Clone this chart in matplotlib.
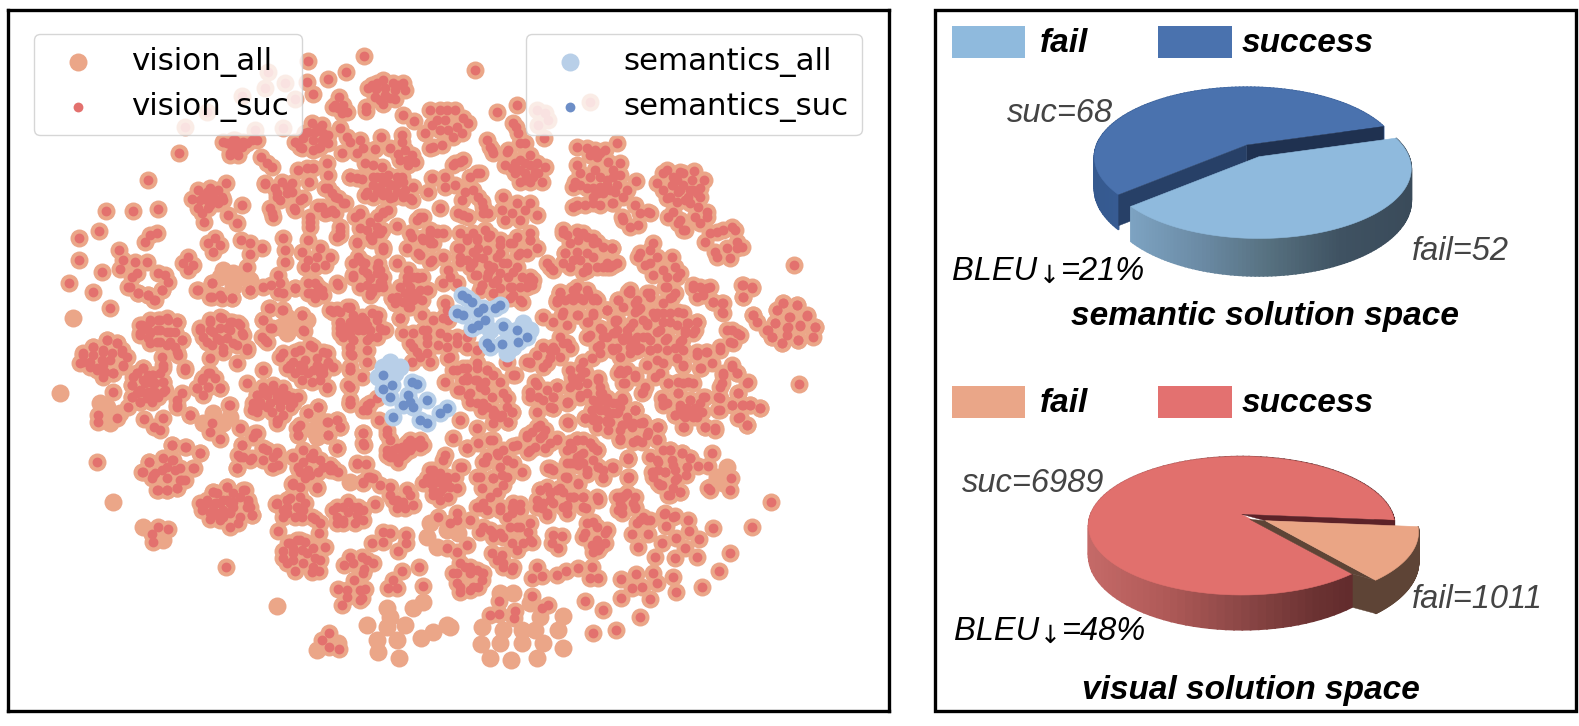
import numpy as np
from matplotlib import pyplot as plt
from matplotlib.patches import Polygon, Rectangle
from matplotlib.colors import to_rgb

# points, in picture pixels
vision_suc = [
(308,61),(364,56),(346,72),(328,79),(307,82),(313,94),(268,72),(285,83),(265,88),(295,99),(242,96),(207,112),(185,127),(255,130),(283,128),
(179,153),(148,180),(106,211),(133,211),(158,209),(99,231),(79,238),(79,260),(69,283),(93,292),(110,308),(102,272),
(377,83),(383,80),(393,83),(403,83),(368,88),(376,89),(385,88),(395,90),(405,90),(375,97),(385,95),(395,99),(383,104),
(339,97),(335,105),(343,105),(338,108),(347,112),(366,107),(366,111),(403,115),(414,121),
(430,110),(440,110),(447,110),(437,120),(445,120),(432,125),(440,130),(448,130),(425,133),(433,147),(442,145),(430,148),
(455,110),(463,118),(468,123),(457,127),(462,133),(453,137),
(227,143),(233,140),(240,143),(247,143),(232,148),(238,148),(230,155),(257,140),(261,157),(267,163),(272,167),
(312,123),(322,125),(308,132),(315,132),(323,133),(303,138),(313,140),(322,140),(328,143),(295,142),(302,148),(313,150),(318,148),
(340,128),(347,137),(350,142),(360,140),(342,153),(357,153),(363,148),(375,149),(381,137),(390,148),(402,135),(402,142),
(398,154),(405,150),(412,155),(400,160),(407,160),(415,162),(408,165),(365,163),(373,165),(382,167),
(327,163),(328,175),(298,170),(307,168),(313,168),(265,184),(282,182),(292,183),(275,188),(287,193),(277,197),
(309,182),(303,198),(294,208),(272,213),(328,188),(335,197),(343,203),(322,207),(328,212),(335,213),(310,222),(340,231),
(350,177),(362,179),(377,177),(388,175),(397,177),(373,185),(383,182),(392,185),(403,182),(377,192),(387,192),(397,192),(365,195),(390,198),(410,198),
(432,178),(445,177),(428,192),(445,187),(440,208),(360,214),(383,212),
(370,222),(360,228),(377,227),(370,237),(380,233),(357,242),(383,248),(397,226),
(420,217),(430,230),(412,237),(423,240),(433,243),(407,248),(420,255),(432,260),(443,233),
(198,190),(210,188),(218,190),(226,183),(192,199),(203,197),(213,197),(222,197),(198,208),(210,205),(218,203),(242,205),
(228,215),(237,223),(204,222),(157,233),(150,235),(145,242),(215,238),(208,243),(220,245),(213,252),
(241,240),(250,243),(262,248),(250,254),(247,267),(283,238),(285,250),(285,262),
(308,240),(302,252),(320,248),(330,257),(308,260),(317,257),(325,265),(305,267),(315,267),
(188,257),(183,263),(193,265),(188,270),
(119,250),(123,260),(120,269),(135,262),(147,262),(137,273),(132,277),(128,287),(138,293),(148,295),(154,300),(158,273),(165,275),(168,282),(162,290),
(212,283),(198,290),(250,290),(210,297),(220,295),(232,298),
(278,275),(280,283),(271,285),(283,293),(295,288),(308,283),(315,283),(308,293),(315,293),(322,290),(315,298),(338,285),
(353,277),(363,270),(377,267),(370,278),(380,282),(360,287),(373,288),(383,287),(370,295),
(407,277),(417,277),(400,287),(410,287),(420,290),(392,298),(403,302),(413,300),(400,318),(422,315),(445,303),
(269,308),(283,310),(302,315),(263,320),(272,328),(304,331),(265,340),
(333,311),(350,308),(340,322),(353,320),(365,320),(343,333),(358,330),(370,330),(350,347),(380,328),(372,313),
(142,325),(150,322),(158,320),(168,320),(177,322),(140,335),(150,333),(160,330),(170,332),(150,343),(160,342),(170,342),(182,340),(177,352),
(210,322),(222,318),(232,322),(240,325),(200,330),(213,332),(227,328),(243,335),(207,342),(220,340),(233,343),(247,348),(223,352),
(107,340),(93,347),(117,343),(83,355),(103,350),(122,353),
(83,362),(97,370),(113,373),(103,365),(123,366),
(143,368),(137,373),(153,375),(132,385),(145,383),(155,383),(163,382),(132,397),(142,392),(152,392),(163,392),(140,402),(152,400),
(113,392),(128,407),(163,365),(185,370),(203,378),(210,373),(220,388),(197,388),(208,387),(182,393),(177,405),
(98,415),(98,422),(117,418),(144,419),(163,418),(154,427),(160,430),(190,415),
(212,423),(210,432),(220,439),(240,428),(229,405),(247,383),(263,370),
(263,388),(273,385),(283,388),(257,395),(267,395),(277,393),(287,395),(260,405),(270,403),(280,403),(290,402),(253,410),(277,420),(298,397),
(290,365),(303,367),(317,365),(328,363),(295,373),(308,373),(320,373),(312,382),(327,388),(350,370),(348,385),(350,404),(367,405),(367,410),
(318,407),(308,413),(300,425),(298,435),(328,422),(337,420),(340,427),(328,435),(337,448),(363,433),(364,445),(379,420),(387,434),
(387,450),(397,448),(407,443),(417,442),(393,457),(403,455),(398,462),(423,445),(445,455),
(172,445),(186,447),(200,453),(194,468),
(149,462),(163,458),(173,460),(142,472),(155,473),(167,467),(180,468),(152,478),(182,480),(157,490),(167,490),(177,488),(97,462),
(257,433),(242,445),(238,455),(263,448),(252,458),(277,452),(237,468),(273,467),
(303,462),(313,458),(320,460),(298,468),(308,470),(318,472),(305,478),(330,465),(338,472),(292,484),(317,488),
(357,464),(366,464),(368,477),(363,482),(373,478),
(430,470),(440,473),(427,478),(437,482),(447,480),(433,490),(443,488),(448,497),
(390,487),(407,490),(397,500),(405,508),(413,505),(397,508),
(213,492),(227,487),(245,490),(207,503),(217,503),(227,500),(248,500),(202,510),(213,510),(223,510),(233,507),(210,519),(223,517),(238,523),(252,515),(230,527),
(290,498),(276,504),(287,507),(305,503),(283,517),(295,517),(315,519),(278,531),(302,517),
(337,507),(348,502),(358,507),(337,517),(357,515),(343,523),(355,523),(348,512),(375,504),
(158,527),(152,534),(168,529),(153,542),
(288,543),(297,540),(305,542),(283,551),(293,548),(302,550),(313,548),(283,558),(293,560),(303,563),(315,558),(325,547),(295,571),(312,572),(319,571),(319,533),
(383,532),(390,533),(383,542),(372,543),(406,535),(406,543),(398,551),(438,517),(447,548),
(344,565),(362,557),(373,563),(364,569),(354,580),(338,589),(365,589),(362,598),(342,605),
(402,571),(393,580),(388,588),(397,588),(419,567),(423,586),(226,567),
(329,633),(322,640),(329,647),(339,649),
(475,70),(517,105),(497,112),(516,127),(520,143),(507,152),(490,147),(493,153),(544,138),(537,110),(548,120),(538,125),(545,113),(590,102),
(530,155),(515,163),(525,163),(537,163),(505,165),(515,173),(525,173),(535,172),(545,167),(520,182),(530,182),(542,182),
(460,162),(477,173),(453,165),(455,185),(473,190),(462,200),(463,215),(482,202),(483,213),
(503,197),(517,203),(530,203),(502,210),(512,213),(525,210),(505,220),(520,220),(537,215),
(587,148),(595,150),(605,150),(617,143),(577,165),(595,170),(608,162),(620,163),(620,175),(575,182),(587,188),(598,193),(607,185),(615,192),(627,190),(636,181),(573,207),(585,205),(600,205),(612,203),
(635,205),(648,212),(623,220),(638,225),
(667,170),(680,172),(694,171),(657,183),(672,185),(692,180),(704,180),(678,192),(690,190),(700,188),(667,198),(677,202),(685,200),
(673,212),(698,207),(707,212),(678,223),(700,223),(685,230),
(717,232),(732,227),(705,242),(737,242),(742,247),(727,248),(715,252),(730,258),(794,265),
(567,235),(577,232),(587,237),(597,242),(565,253),(577,252),(593,257),(612,248),(550,267),(570,267),(583,272),(610,267),(607,263),
(650,250),(638,257),(657,257),(645,265),(672,257),(653,275),(675,267),(677,277),(743,285),(752,288),(743,297),
(783,303),(797,305),(777,310),(789,317),(807,316),(775,323),(800,326),(815,327),(767,330),(787,328),(772,337),(782,343),(798,340),(753,315),
(467,240),(477,238),(488,237),(460,248),(478,248),(500,245),(513,243),(530,240),(537,248),(483,258),(497,257),(518,255),(467,260),(475,275),(490,270),(517,267),(508,277),(482,285),(500,288),(510,287),(528,282),(532,285),(522,302),(510,298),
(560,292),(577,287),(588,295),(557,302),(573,300),(597,300),(562,315),(578,315),(593,315),(567,325),(588,322),
(630,290),(650,293),(618,300),(635,303),(638,310),(607,310),(615,322),(633,323),(647,323),(600,328),(613,333),(627,330),(590,335),(607,337),(623,340),(637,337),(650,340),(630,347),(667,338),(680,342),
(657,313),(670,313),(683,313),(663,322),(677,325),(687,323),(697,322),(685,333),(695,330),
(667,287),(672,297),(693,285),(700,287),(707,288),(697,297),(713,302),(723,303),(723,313),
(727,330),(737,333),(733,343),(720,350),(707,352),(697,352),
(467,337),(457,343),(477,350),(550,350),(563,343),(597,347),(613,350),(630,353),(650,350),(667,350),
(457,370),(467,368),(477,368),(487,370),(463,380),(475,380),(485,390),(500,382),(515,375),(470,402),(482,410),(492,397),(507,398),(493,415),(512,412),(508,422),(502,415),
(460,420),(477,428),(453,438),
(535,382),(530,392),(538,397),(557,387),(567,402),(553,408),(580,395),(573,380),(578,385),(543,367),(530,363),(547,363),(570,370),(598,378),(602,393),
(600,400),(613,403),(592,410),(605,410),(617,413),(598,420),(610,422),(622,425),(585,418),(622,400),(635,410),
(568,422),(632,427),(643,422),(648,432),(637,440),(620,439),(657,439),(658,427),(642,442),
(623,373),(625,383),(643,392),(655,377),(668,383),(683,383),(693,383),(647,365),(663,363),(683,365),(700,368),
(732,367),(723,373),(722,383),(737,373),(747,383),(738,393),
(678,393),(663,403),(690,400),(680,408),(690,410),(700,403),(705,397),(675,415),(685,417),(697,417),(720,398),(683,427),(705,427),(715,430),(718,410),(732,405),(667,403),
(742,405),(750,405),(760,408),(738,418),(747,425),(799,384),
(540,425),(532,432),(527,435),(540,438),(557,439),(535,447),(528,452),(545,448),
(577,440),(590,443),(572,448),(583,453),(597,450),(567,463),(578,465),(593,447),(548,468),(567,477),(587,474),(578,484),
(598,467),(603,477),(613,467),(628,459),(629,477),
(670,450),(682,453),(690,458),(658,462),(673,465),(687,467),(652,472),(665,472),(677,478),(686,475),(660,485),(670,495),(680,492),(698,466),(708,466),
(712,453),(731,478),(708,488),(730,490),(771,502),(752,527),(713,528),(730,553),(719,571),(702,587),
(467,448),(478,443),(493,440),(513,446),(487,457),(498,455),(507,460),(483,462),(500,467),(513,463),(522,472),(460,467),(455,477),
(477,477),(493,478),(502,475),(482,488),(503,485),(497,492),(490,497),(457,488),(480,507),(500,510),(512,507),(520,504),(512,513),
(540,490),(550,492),(560,488),(537,500),(550,500),(542,508),(547,515),(567,505),(567,513),(574,497),(583,497),(598,500),(586,508),
(617,497),(625,495),(635,497),(622,507),(635,508),(622,513),(640,520),(647,520),
(593,522),(585,533),(605,533),(597,540),(592,545),(605,543),(598,550),(632,534),(648,534),(638,547),
(664,514),(675,516),(688,520),(666,526),(689,531),(676,538),(699,539),(662,543),(685,548),(655,557),(675,558),(697,557),
(457,520),(450,523),(467,545),(457,552),
(480,532),(492,532),(500,533),(510,527),(520,527),(528,532),(532,542),(523,543),(512,543),(517,550),
(553,535),(562,536),(552,543),(558,548),(492,553),(502,555),(503,567),(512,570),
(465,567),(477,570),(457,573),(482,580),(457,583),(470,590),(478,587),(460,592),
(537,567),(532,578),(542,576),(557,575),(566,571),(578,568),(592,567),(590,578),(598,578),
(585,601),(603,610),(593,633),(616,630),(640,617),
(621,579),(636,574),(653,573),(673,577),(632,588),(642,587),(657,583),(621,598),(650,599),(676,592),
(499,601),(532,596),(490,615),(499,614),(515,611),(514,618),(542,608),(548,605),
]
# second pass over the dense middle of the cloud
vision_suc_dense = [
(467,238),(477,240),(490,235),(510,243),(520,253),(530,240),(458,248),(473,252),(487,250),(500,253),(460,262),(473,263),(488,265),(503,263),(513,272),(477,275),(488,273),(500,273),(482,285),(493,283),(512,287),(527,287),(533,280),(520,300),(450,277),(457,283),
(563,233),(578,240),(593,238),(612,248),(565,253),(573,260),(587,253),(547,263),(553,270),(587,270),(607,267),(613,265),
(337,237),(357,243),(372,237),(383,247),(422,238),(430,240),(418,253),(430,262),(360,260),(367,273),(380,270),(353,275),(372,292),(382,283),(337,283),(397,263),(407,282),(418,278),(428,290),(392,298),(410,298),(418,298),(400,318),(410,307),
(337,310),(350,307),(343,327),(358,320),(367,325),(350,335),(363,330),(370,337),(382,330),(340,333),(378,315),
(352,355),(367,362),(350,367),(362,377),(350,387),(350,403),(368,405),(363,433),(363,443),
(410,343),(417,352),(427,337),(420,357),(430,362),(438,345),(412,362),(427,353),(448,358),(427,330),(443,318),(450,357),
(453,370),(463,368),(477,363),(487,370),(467,380),(477,380),(485,382),(458,390),(468,395),(445,382),(477,403),(487,407),(495,413),(512,412),(493,423),(508,422),(513,375),(507,362),(530,362),
(457,337),(467,347),(447,337),
(543,317),(553,322),(560,337),(543,347),(553,347),(537,355),(550,358),(567,343),(527,362),
(560,293),(573,290),(587,290),(557,302),(570,298),(583,300),(595,298),(563,312),(577,315),(593,313),(607,310),(615,320),
(630,293),(623,307),(637,307),(650,297),(663,303),(617,330),(630,327),(643,320),(655,317),(587,337),(603,337),(617,348),(630,340),(643,337),(660,330),(600,353),(620,357),(637,350),(650,350),(620,370),(635,375),(657,360),(660,373),
(537,385),(547,390),(530,397),(543,400),(553,397),(567,403),(537,412),(550,407),(580,377),(570,387),(587,383),(587,393),(600,387),
(593,400),(607,398),(600,410),(613,413),(593,420),(607,422),(620,407),(627,423),(640,423),(567,422),(620,440),(637,440),(657,427),
(467,448),(490,440),(497,453),(485,462),(503,450),(507,460),(517,445),(527,437),(537,427),(543,435),(530,450),(550,443),(480,477),(493,478),(507,477),(462,467),(433,470),(447,477),(443,460),(583,440),(570,443),(593,447),(577,457),(593,460),(587,470),(567,478),(553,470),(573,463),
(613,468),(628,458),(628,478),(603,470),(650,457),(663,450),(658,470),(653,477),
(393,450),(402,447),(410,440),(387,455),(397,458),(405,453),(357,463),(370,477),(363,483),(380,485),
(140,325),(150,320),(160,320),(167,318),(177,322),(140,333),(148,330),(157,330),(167,332),(175,332),(148,338),(157,342),(167,345),(182,340),(175,347),
(162,357),(178,355),(163,368),(185,368),
(210,320),(220,317),(230,322),(238,323),(200,328),(210,330),(220,328),(230,330),(242,333),(203,337),(217,338),(227,338),(212,345),(223,348),(237,345),(247,350),(210,358),(237,363),
(93,347),(107,340),(117,343),(83,353),(93,355),(103,352),(112,353),(122,350),(90,362),(102,360),(110,360),(127,357),(97,368),(105,372),(113,373),(123,365),
(143,368),(137,373),(152,375),(132,385),(143,380),(152,383),(163,382),(140,390),(148,392),(165,390),(132,397),(140,402),(155,392),(152,402),
(263,387),(273,387),(280,392),(257,395),(267,395),(277,397),(287,397),(260,402),(270,403),(280,407),(290,407),(272,412),(252,410),(257,412),(278,420),
(295,352),(310,345),(323,352),(280,357),(293,362),(305,360),(317,358),(328,362),(287,368),(300,370),(313,370),(323,373),(302,380),(327,387),
(282,310),(270,308),(302,315),(303,330),(263,320),(270,328),(267,342),(262,337),
(298,435),(308,413),(318,407),(327,422),(337,420),(340,427),(328,435),(337,448),(297,428),
(208,373),(202,380),(215,378),(197,388),(208,387),(220,388),(203,395),(177,400),(177,407),(190,415),(230,405),
(255,433),(242,445),(240,457),(250,460),(263,448),(277,453),(272,467),(237,468),(278,465),
(172,445),(185,447),(200,453),(193,468),
(172,460),(162,470),(149,462),(143,472),(153,475),(167,478),(180,480),(177,488),(158,490),(167,490),(185,480),(175,470),
(213,492),(227,487),(243,490),(203,507),(215,503),(223,500),(233,502),(248,502),(210,513),(220,513),(230,513),(252,515),
(293,457),(303,450),(313,453),(323,467),(333,470),(300,472),(310,475),(317,487),(293,483),
(277,503),(287,500),(300,497),(287,513),(300,510),
(330,310),(350,308),(340,323),(350,322),(357,323),(343,337),(353,340),(352,355),(350,370),(350,387),(350,403),
(263,287),(278,292),(295,288),(310,293),(318,287),(323,295),
(130,287),(138,293),(148,295),(155,300),(162,290),(197,290),(212,297),(222,298),(232,298),(250,290),(212,283),
(560,293),(575,292),(588,293),(557,300),(565,300),(580,298),(593,300),
(628,292),(637,300),(647,293),(618,300),(640,308),(635,312),
(665,287),(675,293),(670,298),(693,288),(703,290),(710,287),(703,295),(713,302),(722,303),(722,312),
(742,285),(752,287),(743,297),
(753,315),(757,322),(783,303),(797,305),(777,310),(807,315),(790,317),(775,323),(768,330),(788,327),(800,325),(815,327),(772,337),(787,335),(782,343),(798,340),(813,337),
(607,310),(617,320),(587,322),(602,330),(588,337),(600,345),(612,348),(615,333),(622,338),(627,335),(635,343),(640,348),(647,337),(657,332),(665,340),(657,348),
(653,313),(663,313),(678,312),(670,322),(688,323),(697,322),(685,330),(693,333),(647,325),
(682,340),(675,348),(683,350),(677,358),(683,366),(697,355),(706,352),(701,368),(712,363),(720,347),(732,330),(740,335),(730,342),
(732,365),(723,375),(737,373),(720,387),(748,382),(738,393),(718,397),(732,405),(743,405),(750,405),(760,408),(740,417),(747,425),(720,410),
(690,400),(680,405),(687,408),(695,408),(675,415),(683,415),(693,417),(702,412),(703,397),(684,427),(705,427),(715,428),(663,405),(662,398),
(678,382),(688,382),(668,383),(678,393),
(645,387),(642,393),(622,398),(635,410),(643,423),(633,423),(658,427),(647,435),(657,440),(620,438),(633,442),
(557,387),(553,397),(568,402),(580,397),(572,377),(573,383),(585,372),(598,380),(553,408),(550,357),(560,357),(570,348),(555,350),(583,362),(592,358),(580,368),
(600,393),(598,403),(608,412),(592,410),(618,412),(607,420),(585,418),(597,427),(608,430),(622,425),(623,400),(635,410),
(627,370),(635,377),(618,373),(623,383),(568,423),(557,440),(545,430),
(577,440),(590,443),(567,450),(580,455),(597,450),(570,463),(583,463),(550,468),
(565,477),(578,483),(587,473),(598,467),(612,467),(603,478),(628,458),(628,477),
(670,450),(682,453),(657,460),(672,460),(690,458),(665,472),(675,470),(653,472),(687,467),(658,483),(675,480),(662,485),(673,488),(668,495),(680,492),
(710,490),(547,487),(557,490),(573,497),(583,497),(598,498),(567,507),(583,507),(620,497),(627,493),(618,510),(635,507),(665,513),(673,517),
(382,177),(402,177),(380,187),(388,183),(398,183),(383,195),(393,197),(405,190),(230,143),(237,145),(242,147),(235,140),
(207,192),(213,192),(200,200),(207,200),(217,202),(223,200),(208,208),(202,213),
(597,157),(607,180),(600,187),(610,190),(613,177),(593,197),(673,185),(677,180),(680,190),(683,185),(688,197),(697,193),
(520,160),(512,168),(520,170),(530,165),(538,173),(525,180),(533,177),
(220,503),(230,503),(220,513),(230,512),(213,515),(433,473),(443,480),(430,483),(440,492),(392,452),(402,448),(412,447),(400,457),(482,573),(470,567),
]
# third pass, cluster edges
vision_suc_edges = [
(372,85),(398,85),(380,100),(390,98),(333,107),(342,113),(297,143),(305,133),(317,128),(328,135),(300,147),(320,147),
(223,142),(230,153),(243,142),(238,155),(252,140),(350,177),(357,178),(367,192),(373,197),(403,197),(412,200),(373,177),(413,187),
(325,188),(332,193),(338,198),(345,203),(318,207),(325,213),(332,210),(310,217),(310,227),(340,227),(340,235),(270,208),(273,217),(300,200),(295,210),
(265,183),(277,193),(287,187),(292,192),(280,200),(360,213),(355,217),(383,213),(388,210),(378,217),
(367,230),(377,233),(372,240),(382,230),(383,250),(358,257),(365,263),
(353,263),(362,262),(378,263),(377,273),(383,277),(367,285),(378,287),(370,293),
(408,270),(413,277),(422,277),(405,293),(413,293),(427,290),(397,297),(422,300),(408,307),(395,303),
(430,233),(437,233),(430,243),(417,220),(423,217),(410,233),(443,257),(448,270),(443,283),(447,310),(448,320),
(333,312),(340,312),(347,307),(353,315),(362,317),(340,328),(350,328),(363,325),(377,320),(385,330),(377,337),(353,340),(367,340),
(403,333),(413,333),(423,330),(433,320),(440,333),(427,343),(413,347),(447,347),
(283,353),(300,350),(313,347),(327,353),(350,353),(367,350),
(487,140),(492,150),(508,150),(513,123),(518,133),(525,143),(455,163),(463,160),(470,177),(480,173),
(465,192),(478,197),(483,207),(488,213),(458,213),(468,217),
(577,147),(590,155),(600,153),(580,173),(590,177),(600,177),(613,170),(573,187),(580,185),(593,188),(603,193),(617,185),(623,197),(613,203),(577,205),(593,203),
(622,217),(630,227),(640,213),(650,213),(663,173),(673,177),(683,173),(663,190),(670,197),(693,190),(700,197),(690,203),
(668,217),(680,220),(683,230),(695,217),(707,217),(710,233),(723,230),(735,230),(737,248),(717,257),
(563,230),(570,243),(583,233),(593,243),(603,247),(563,263),(580,260),(587,267),(603,267),(617,263),(597,267),
(640,253),(650,263),(663,270),(667,277),(680,273),(653,243),
(460,233),(473,233),(485,230),(500,240),(517,237),(530,233),(460,257),(477,257),(493,267),(507,263),(527,253),(470,267),(487,277),(497,280),(522,277),(530,277),(480,290),(493,293),(513,295),(520,287),
(470,520),(457,513),(483,527),(490,530),(517,527),(503,537),(493,537),(530,523),(530,540),(503,563),(513,567),(497,560),
(460,563),(470,573),(483,573),(453,573),(460,587),(473,587),
(483,503),(477,507),(487,510),(513,503),(520,510),(500,507),(507,517),
(540,490),(543,503),(550,493),(537,507),(553,503),(547,513),(563,507),
(587,523),(597,527),(607,530),(583,537),(600,547),(593,552),(620,503),(623,497),(633,503),(643,517),(637,523),(650,520),(597,497),(570,497),(563,492),
(500,417),(493,410),(483,403),(470,393),(460,390),(480,387),(503,393),(507,407),(467,377),(493,375),
(597,403),(607,403),(593,417),(617,403),(627,417),(620,430),
(90,367),(103,377),(80,363),(133,377),(148,375),(160,373),(137,393),(147,398),(158,397),
(263,393),(270,390),(277,400),(267,407),(283,400),(292,397),(253,403),
(303,370),(290,368),(300,365),(323,368),(333,367),(320,380),(253,407),(257,410),(283,415),(277,423),(293,403),
(253,437),(267,450),(243,457),(263,460),(273,457),
(298,467),(310,457),(323,467),(330,470),(333,468),(300,487),(293,485),
(333,510),(343,507),(343,520),(353,507),(363,510),(337,523),(363,520),
(287,500),(283,510),(303,510),(297,507),(312,517),(320,523),
(207,500),(200,503),(217,493),(233,493),(240,497),(247,507),(240,517),(220,520),(250,507),
(290,543),(300,540),(293,553),(307,553),(320,560),(313,567),(287,563),
(350,557),(367,560),(353,563),(363,573),(360,590),(347,590),(347,597),(360,600),
(430,477),(440,477),(423,483),(433,495),(450,487),(440,500),(393,500),(403,502),(390,495),(410,495),
(410,450),(420,447),(390,457),(420,440),(350,400),(370,403),(363,410),(377,398),(387,430),(390,440),
]
# seen in vision_all only, no red dot on top
vision_fail = [
(73,318),(233,273),(243,277),(220,277),(233,287),(250,280),(223,270),(287,317),(280,327),(293,327),(307,320),(287,333),
(60,393),(107,407),(100,403),(120,413),(110,423),(213,413),(203,423),(223,423),(213,430),(230,417),
(313,430),(320,420),(317,437),(113,502),(350,482),(143,527),(163,540),(430,523),(427,537),(437,547),(447,530),
(413,608),(423,602),(277,606),(317,650),(338,643),
(387,608),(367,625),(405,625),(377,640),(397,640),(387,627),(378,652),(399,658),(390,617),(421,638),(433,632),(447,625),
(458,533),(727,467),(717,477),(710,487),(723,483),
(513,593),(500,593),(530,603),(563,616),(558,630),(563,648),(537,658),(511,660),(490,658),(481,644),(482,627),(500,643),(522,643),(543,643),(503,630),(522,630),(535,630),(540,617),(450,627),
]
semantics_suc = [
(462,295),(467,298),(472,302),(457,313),(463,315),(478,312),(483,308),(495,308),(500,305),(472,328),(478,325),(485,320),(503,326),(517,330),(527,337),(518,342),(487,343),(490,347),(502,344),
(383,375),(392,385),(383,389),(390,397),(412,382),(417,384),(408,395),(410,402),(403,405),(413,407),(427,400),(393,417),(420,420),(427,423),(440,413),(447,408),
]
semantics_fail = [
(523,323),(530,330),(507,353),(520,340),(507,330),(490,330),(513,347),
(390,362),(383,367),(400,367),(378,377),(395,373),
]

# pie values
semantic_counts = [68, 52]
visual_counts = [6989, 1011]

VISION_ALL = '#eba688'
VISION_SUC = '#e3716e'
SEM_ALL = '#b8cfe8'
SEM_SUC = '#6d8ec7'
FONT = 'Liberation Sans'
W, H = 1579, 726


def project(theta, apex, rx, ry, k, drop=0.0):
    t = np.radians(theta)
    w = 1 + k * np.sin(t)
    return np.column_stack([apex[0] + rx * np.cos(t) / w, apex[1] - ry * np.sin(t) / w + drop / w])


def top_face(ax, t0, t1, apex, rx, ry, k, colour, z):
    arc = project(np.linspace(t0, t1, 120), apex, rx, ry, k)
    ax.add_patch(Polygon(np.vstack([[apex], arc]), closed=True, fc=colour, ec=colour, lw=0.4, zorder=z))


def side_wall(ax, t0, t1, apex, rx, ry, k, depth, stops, z):
    ts = np.linspace(t0, t1, 121)
    up = project(ts, apex, rx, ry, k)
    down = project(ts, apex, rx, ry, k, depth)
    left, right = up[:, 0].min(), up[:, 0].max()
    stops = np.array([to_rgb(c) for c in stops])
    pos = np.linspace(0, 1, len(stops))
    for i in range(len(ts) - 1):
        f = ((up[i, 0] + up[i + 1, 0]) / 2 - left) / (right - left)
        c = [np.interp(f, pos, stops[:, j]) for j in range(3)]
        ax.add_patch(Polygon([up[i], up[i + 1], down[i + 1], down[i]], closed=True, fc=c, ec=c, lw=1.2, zorder=z))


def flat(ax, pts, colour, z):
    ax.add_patch(Polygon(pts, closed=True, fc=colour, ec=colour, lw=0.3, zorder=z))


def semantic_pie(ax):
    total = sum(semantic_counts)
    start = 16.7
    mid = start + 360.0 * semantic_counts[0] / total
    end = start + 360.0
    suc_apex = (1246.7, 145.0)
    fail_apex = (1259.0, 156.7)
    rx, ry, k, d = 150, 67.7, 0.172, 31.0

    side_wall(ax, start, mid, suc_apex, rx, ry, k, d, ['#35598f', '#4068a2', '#3a5e96'], 3)
    top_face(ax, start, mid, suc_apex, rx, ry, k, '#4a72ae', 4)
    a = np.array(suc_apex)
    s = project(np.array([start]), suc_apex, rx, ry, k)[0]
    e = project(np.array([mid]), suc_apex, rx, ry, k)[0]
    flat(ax, [a, s, s + [0, d], a + [0, d]], '#1f3150', 5)
    flat(ax, [a, e, e + [0, d], a + [0, d]], '#274067', 5)

    side_wall(ax, mid, end, fail_apex, rx, ry, k, d,
              ['#7da3c2', '#6b8ba5', '#56707f', '#3f5262', '#3a4b5a'], 6)
    top_face(ax, mid, end, fail_apex, rx, ry, k, '#8fbadd', 7)


def visual_pie(ax):
    total = sum(visual_counts)
    start = -5.0
    mid = start + 360.0 * visual_counts[0] / total
    end = start + 360.0
    suc_apex = (1241.7, 514.3)
    fail_apex = (1265.4, 520.7)
    rx, ry, k, d = 151, 67.3, 0.166, 29.0

    a = np.array(suc_apex)
    b = np.array(fail_apex)
    s = project(np.array([start]), suc_apex, rx, ry, k)[0]
    e = project(np.array([mid]), suc_apex, rx, ry, k)[0]
    f1 = project(np.array([mid]), fail_apex, rx, ry, k)[0]

    side_wall(ax, mid, end, fail_apex, rx, ry, k, d, ['#5e4436', '#5e4436'], 3)
    flat(ax, [e, f1, f1 + [0, d / 0.87], e + [0, d / 0.87]], '#5e4436', 3)
    side_wall(ax, start, mid, suc_apex, rx, ry, k, d,
              ['#c56a68', '#b05a58', '#8c4746', '#6b3232', '#572426'], 4)
    top_face(ax, start, mid, suc_apex, rx, ry, k, '#e1706d', 5)
    flat(ax, [a, s, s + [0, 6], b], '#5c2228', 6)
    flat(ax, [a + [8, 5], e, f1, b], '#5e4436', 6)
    top_face(ax, mid, end, fail_apex, rx, ry, k, '#eaa585', 7)


def scatter_panel(fig):
    x0, x1, y0, y1 = 8, 889, 10, 711
    ax = fig.add_axes([x0 / W, 1 - y1 / H, (x1 - x0) / W, (y1 - y0) / H])
    ax.set_xlim(x0, x1)
    ax.set_ylim(y1, y0)
    ax.set_xticks([])
    ax.set_yticks([])
    for sp in ax.spines.values():
        sp.set_linewidth(2.4)

    suc = np.vstack([np.array(vision_suc), np.array(vision_suc_dense), np.array(vision_suc_edges)])
    all_pts = np.vstack([suc, np.array(vision_fail)])
    s_suc = np.array(semantics_suc)
    s_all = np.vstack([s_suc, np.array(semantics_fail)])

    big = 168
    small = 50
    h1 = ax.scatter(all_pts[:, 0], all_pts[:, 1], s=big, c=VISION_ALL, linewidths=0, label='vision_all')
    h2 = ax.scatter(suc[:, 0], suc[:, 1], s=small, c=VISION_SUC, linewidths=0, label='vision_suc')
    h3 = ax.scatter(s_all[:, 0], s_all[:, 1], s=big, c=SEM_ALL, linewidths=0, label='semantics_all')
    h4 = ax.scatter(s_suc[:, 0], s_suc[:, 1], s=small, c=SEM_SUC, linewidths=0, label='semantics_suc')

    kw = dict(fontsize=22.2, handletextpad=0.74, labelspacing=0.5, borderpad=0.42, borderaxespad=0)
    leg1 = ax.legend(handles=[h1, h2], loc='upper left', bbox_to_anchor=(26 / 881, 1 - 24 / 701), **kw)
    ax.add_artist(leg1)
    ax.legend(handles=[h3, h4], loc='upper left', bbox_to_anchor=(518 / 881, 1 - 24 / 701), **kw)


def bleu_label(ax, x_word, x_arrow, x_rest, y, rest):
    dark = dict(family=FONT, style='italic', fontsize=23.5, color='black', va='center', zorder=10)
    ax.text(x_word, y, 'BLEU', **dark)
    ax.text(x_arrow, y + 4, '↓', family='DejaVu Sans', fontsize=18, color='black', va='center', ha='center', zorder=10)
    ax.text(x_rest, y, rest, **dark)


def right_panel(fig):
    ax = fig.add_axes([0, 0, 1, 1], facecolor='none')
    ax.set_xlim(0, W)
    ax.set_ylim(H, 0)
    ax.axis('off')
    ax.add_patch(Rectangle((934.5, 10), 641, 701, fc='none', ec='black', lw=2.4))

    for y, fail_c, suc_c in [(26, '#8fbadd', '#4a72ae'), (386, '#eaa688', '#e37170')]:
        ax.add_patch(Rectangle((952, y), 73, 32, fc=fail_c, ec='none'))
        ax.add_patch(Rectangle((1158, y), 74, 32, fc=suc_c, ec='none'))
        ax.text(1040, y + 18, 'fail', family=FONT, style='italic', weight='bold', fontsize=24, va='center')
        ax.text(1242, y + 18, 'success', family=FONT, style='italic', weight='bold', fontsize=24, va='center')

    semantic_pie(ax)
    visual_pie(ax)

    grey = dict(family=FONT, style='italic', fontsize=23.5, color='#444444', va='center', zorder=10)
    bold = dict(family=FONT, style='italic', weight='bold', fontsize=24, color='black', va='center', ha='center', zorder=10)
    ax.text(1007, 113, 'suc=%d' % semantic_counts[0], **grey)
    ax.text(1412, 251, 'fail=%d' % semantic_counts[1], **grey)
    bleu_label(ax, 952, 1049, 1061, 272, '=21%')
    ax.text(1265, 317, 'semantic solution space', **bold)
    ax.text(962, 483, 'suc=%d' % visual_counts[0], **grey)
    ax.text(1412, 600, 'fail=%d' % visual_counts[1], **grey)
    bleu_label(ax, 954, 1050, 1062, 632, '=48%')
    ax.text(1251, 690, 'visual solution space', **bold)


fig = plt.figure(figsize=(W / 100, H / 100), dpi=100)
scatter_panel(fig)
right_panel(fig)
fig.savefig('out.png', dpi=100)
